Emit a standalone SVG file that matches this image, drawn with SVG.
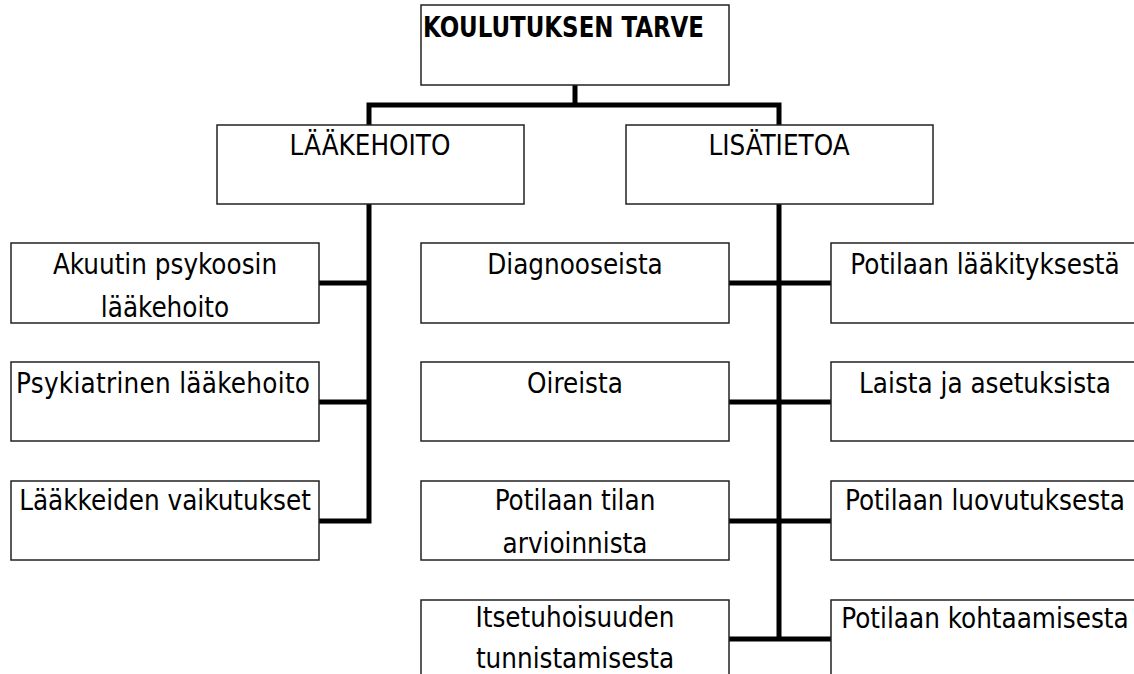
<svg xmlns="http://www.w3.org/2000/svg" width="1134" height="674" viewBox="0 0 1134 674">
<style>
.box{fill:#fff;stroke:#222;stroke-width:1.5}
.t{font-family:"Liberation Sans Narrow","DejaVu Sans Condensed","Liberation Sans",sans-serif;font-size:27.5px;fill:#000;text-anchor:middle}
.b{font-weight:bold;text-anchor:start;font-size:28.5px}
.c{stroke:#000;stroke-width:5;fill:none;stroke-linecap:square}
</style>
<rect width="1134" height="674" fill="#fff"/>
<g id="connectors">
<path class="c" d="M575 85V105M369 105H779M369 105V125M779 105V125"/>
<path class="c" d="M369 204V521M319 283H369M319 402H369M319 521H369"/>
<path class="c" d="M779 204V639M729 283H831M729 402H831M729 521H831M729 639H831"/>
</g>
<g id="n-root"><rect class="box" x="421" y="5" width="308" height="80"/><text class="t b" x="423" y="37" textLength="281" lengthAdjust="spacingAndGlyphs">KOULUTUKSEN TARVE</text></g>
<g id="n-laakehoito"><rect class="box" x="217" y="125" width="307" height="79"/><text class="t" x="370" y="155">LÄÄKEHOITO</text></g>
<g id="n-lisatietoa"><rect class="box" x="626" y="125" width="307" height="79"/><text class="t" x="779" y="155">LISÄTIETOA</text></g>
<g id="n-akuutin"><rect class="box" x="11" y="243" width="308" height="80"/><text class="t" x="165" y="274">Akuutin psykoosin</text><text class="t" x="165" y="317">lääkehoito</text></g>
<g id="n-psyk"><rect class="box" x="11" y="362" width="308" height="79"/><text class="t" x="163" y="393" textLength="294" lengthAdjust="spacing">Psykiatrinen lääkehoito</text></g>
<g id="n-vaik"><rect class="box" x="11" y="481" width="308" height="79"/><text class="t" x="165" y="510">Lääkkeiden vaikutukset</text></g>
<g id="n-diag"><rect class="box" x="421" y="243" width="308" height="80"/><text class="t" x="575" y="274">Diagnooseista</text></g>
<g id="n-oir"><rect class="box" x="421" y="362" width="308" height="79"/><text class="t" x="575" y="393">Oireista</text></g>
<g id="n-tila"><rect class="box" x="421" y="481" width="308" height="79"/><text class="t" x="575" y="510">Potilaan tilan</text><text class="t" x="575" y="553">arvioinnista</text></g>
<g id="n-itse"><rect class="box" x="421" y="600" width="308" height="80"/><text class="t" x="575" y="627">Itsetuhoisuuden</text><text class="t" x="575" y="668">tunnistamisesta</text></g>
<g id="n-laak"><rect class="box" x="831" y="243" width="308" height="80"/><text class="t" x="985" y="274">Potilaan lääkityksestä</text></g>
<g id="n-lait"><rect class="box" x="831" y="362" width="308" height="79"/><text class="t" x="985" y="393">Laista ja asetuksista</text></g>
<g id="n-luov"><rect class="box" x="831" y="481" width="308" height="79"/><text class="t" x="985" y="510">Potilaan luovutuksesta</text></g>
<g id="n-koht"><rect class="box" x="831" y="600" width="308" height="80"/><text class="t" x="985" y="628">Potilaan kohtaamisesta</text></g>
</svg>
